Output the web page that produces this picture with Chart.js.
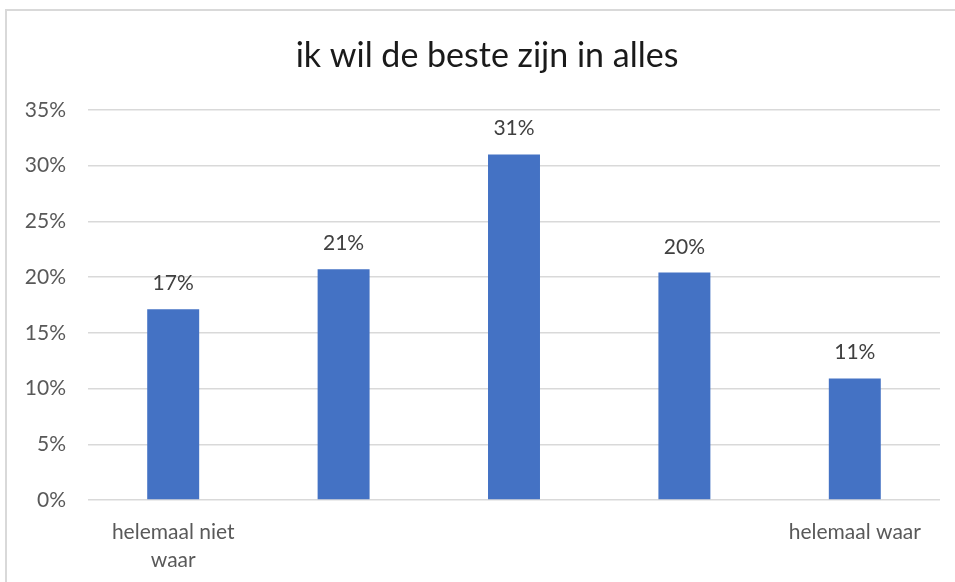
<!DOCTYPE html>
<html>
<head>
<meta charset="utf-8">
<script src="https://cdn.jsdelivr.net/npm/chart.js@4"></script>
<style>
  html, body { margin: 0; padding: 0; background: #fff; overflow: hidden; }
  #frame {
    position: absolute; left: 5px; top: 9px; width: 970px; height: 600px;
    border-left: 2px solid #d9d9d9; border-top: 2px solid #d9d9d9;
  }
  #wrap { position: absolute; left: 6px; top: 10px; width: 962px; height: 572px; }
</style>
</head>
<body>
<div id="frame"></div>
<div id="wrap"><canvas id="barchart"></canvas></div>
<script>
const categories = [['helemaal niet', 'waar'], '', '', '', 'helemaal waar'];
const values = [17.1, 20.7, 31.0, 20.4, 10.9];
const yTicks = [0, 5, 10, 15, 20, 25, 30, 35];

const fontFamily = 'Lato, "Open Sans", sans-serif';

// value labels above the bars
const barLabels = {
    id: 'barLabels',
    afterLayout(chart) {
        // centre the title on the whole chart box, not on the padded area
        if (chart.titleBlock) {
            chart.titleBlock.left = 0;
            chart.titleBlock.right = chart.width;
        }
    },
    afterDatasetsDraw(chart) {
        const ctx = chart.ctx;
        const meta = chart.getDatasetMeta(0);
        ctx.save();
        ctx.font = '21px ' + fontFamily;
        ctx.fillStyle = '#404040';
        ctx.textAlign = 'center';
        ctx.textBaseline = 'alphabetic';
        meta.data.forEach((bar, i) => {
            ctx.fillText(Math.round(values[i]) + '%', bar.x, bar.y - 19);
        });
        ctx.restore();
    }
};

const ctx = document.getElementById('barchart').getContext('2d');
const barchart = new Chart(ctx, {
    type: 'bar',
    data: {
        labels: categories,
        datasets: [{
            data: values,
            backgroundColor: '#4472C4',
            borderWidth: 0,
            categoryPercentage: 1,
            barPercentage: 0.305
        }]
    },
    options: {
        responsive: true,
        maintainAspectRatio: false,
        animation: false,
        layout: { padding: { left: 0, right: 28, top: 0, bottom: 0 } },
        plugins: {
            legend: { display: false },
            tooltip: { enabled: false },
            title: {
                display: true,
                text: 'ik wil de beste zijn in alles',
                color: '#1a1a1a',
                font: { family: fontFamily, size: 34, weight: 'normal', lineHeight: 1.2 },
                padding: { top: 26, bottom: 33 }
            }
        },
        scales: {
            x: {
                grid: { display: false },
                border: { display: false },
                ticks: {
                    color: '#595959',
                    font: { family: fontFamily, size: 21, lineHeight: 1.33 },
                    padding: 10,
                    maxRotation: 0,
                    autoSkip: false
                },
                afterFit(scale) { scale.height = 82; }
            },
            y: {
                min: 0,
                max: 35,
                afterBuildTicks(scale) { scale.ticks = yTicks.map(v => ({ value: v })); },
                grid: { color: '#d9d9d9', lineWidth: 1.5, drawTicks: false },
                border: { display: false },
                ticks: {
                    color: '#595959',
                    font: { family: fontFamily, size: 21 },
                    padding: 22,
                    callback: v => v + '%'
                },
                afterFit(scale) { scale.width = 82; }
            }
        }
    },
    plugins: [barLabels]
});
</script>
</body>
</html>
